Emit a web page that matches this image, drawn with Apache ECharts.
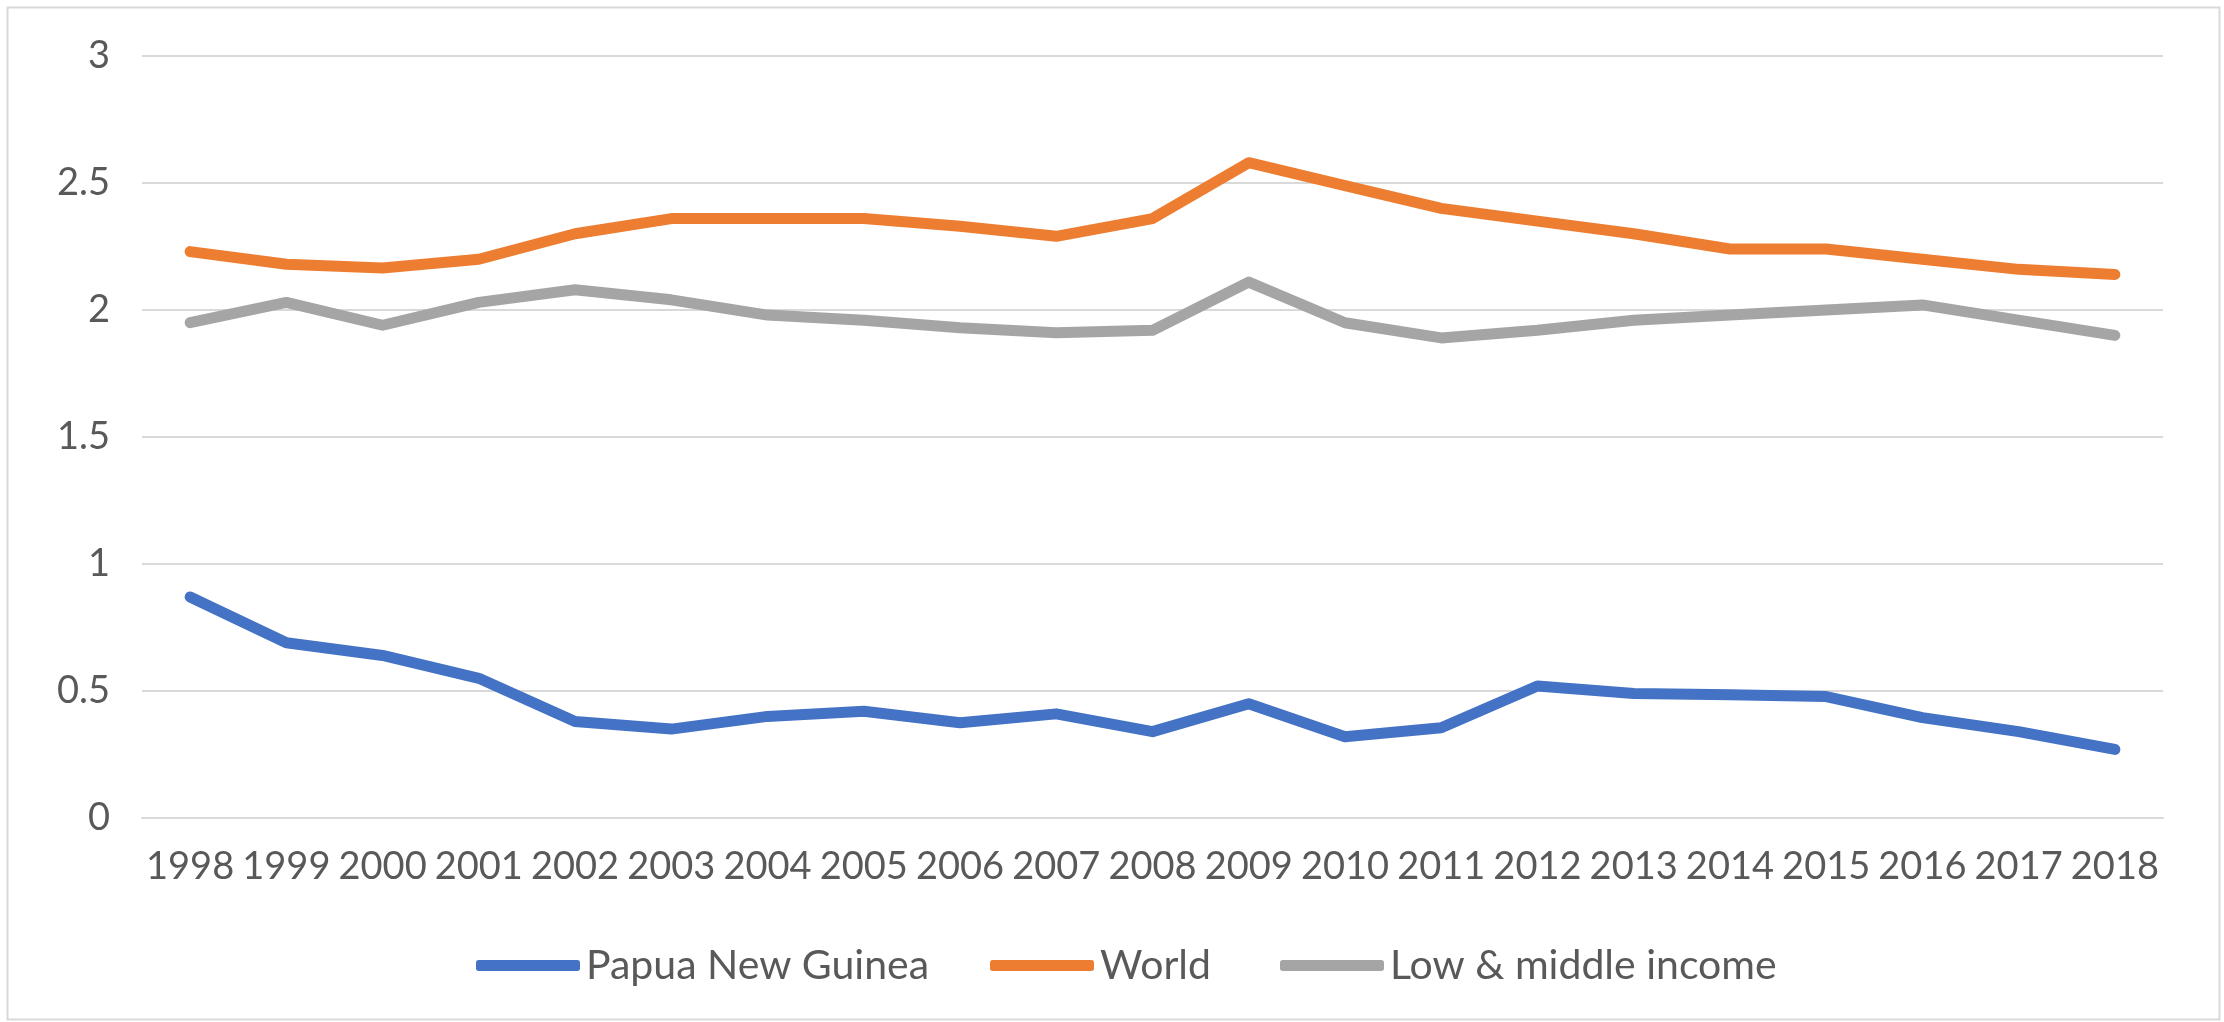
<!DOCTYPE html>
<html>
<head>
<meta charset="utf-8">
<script src="https://cdn.jsdelivr.net/npm/echarts@6/dist/echarts.min.js"></script>
<style>
  html, body { margin: 0; padding: 0; background: #ffffff; }
  #chart { width: 2224px; height: 1022px; }
</style>
</head>
<body>
<div id="chart"></div>
<script>
// Years on the category axis
const years = ['1998','1999','2000','2001','2002','2003','2004','2005','2006','2007',
               '2008','2009','2010','2011','2012','2013','2014','2015','2016','2017','2018'];

// Series values per year
const papuaNewGuinea = [0.87, 0.69, 0.64, 0.55, 0.38, 0.35, 0.40, 0.42, 0.375, 0.41,
                        0.34, 0.45, 0.32, 0.355, 0.52, 0.49, 0.485, 0.478, 0.395, 0.34, 0.27];
const world = [2.23, 2.18, 2.165, 2.20, 2.30, 2.36, 2.36, 2.36, 2.33, 2.29,
               2.36, 2.58, 2.49, 2.40, 2.35, 2.30, 2.24, 2.24, 2.20, 2.16, 2.14];
const lowMiddleIncome = [1.95, 2.03, 1.94, 2.03, 2.08, 2.04, 1.98, 1.96, 1.93, 1.91,
                         1.92, 2.11, 1.95, 1.89, 1.92, 1.96, 1.98, 2.00, 2.02, 1.96, 1.90];

// Value axis ticks
const yMin = 0, yMax = 3, yStep = 0.5;

const seriesNames = ['Papua New Guinea', 'World', 'Low & middle income'];
const seriesColors = ['#4472C4', '#ED7D31', '#A5A5A5'];
const seriesData = [papuaNewGuinea, world, lowMiddleIncome];

const textColor = '#595959';
const fontFamily = 'Lato, "Open Sans", sans-serif';
const legendLefts = [471, 985, 1275];

const chart = echarts.init(document.getElementById('chart'), null, { renderer: 'canvas' });

chart.setOption({
  backgroundColor: '#ffffff',
  animation: false,
  graphic: [{
    type: 'rect',
    left: 5, top: 5,
    shape: { width: 2212, height: 1012 },
    style: { fill: 'none', stroke: '#d9d9d9', lineWidth: 2 },
    silent: true
  }],
  grid: { left: 142, right: 61, top: 56, bottom: 204, containLabel: false },
  legend: seriesNames.map((name, i) => ({
    data: [name],
    left: legendLefts[i],
    top: 940,
    icon: 'roundRect',
    itemWidth: 104,
    itemHeight: 11,
    itemGap: 0,
    textStyle: { color: textColor, fontSize: 41, fontFamily: fontFamily, padding: [0, 0, 0, 1] }
  })),
  xAxis: {
    type: 'category',
    data: years,
    boundaryGap: true,
    axisLine: { show: true, lineStyle: { color: '#d9d9d9', width: 2 } },
    axisTick: { show: false },
    axisLabel: { color: textColor, fontSize: 38, fontFamily: fontFamily, margin: 30, interval: 0 },
    splitLine: { show: false }
  },
  yAxis: {
    type: 'value',
    min: yMin, max: yMax, interval: yStep,
    axisLine: { show: false },
    axisTick: { show: false },
    axisLabel: { color: textColor, fontSize: 38, fontFamily: fontFamily, margin: 32 },
    splitLine: { show: true, lineStyle: { color: '#d9d9d9', width: 2 } }
  },
  series: seriesNames.map((name, i) => ({
    name: name,
    type: 'line',
    data: seriesData[i],
    showSymbol: false,
    symbol: 'none',
    smooth: false,
    color: seriesColors[i],
    lineStyle: { color: seriesColors[i], width: 11, cap: 'round', join: 'round' }
  }))
});
</script>
</body>
</html>
